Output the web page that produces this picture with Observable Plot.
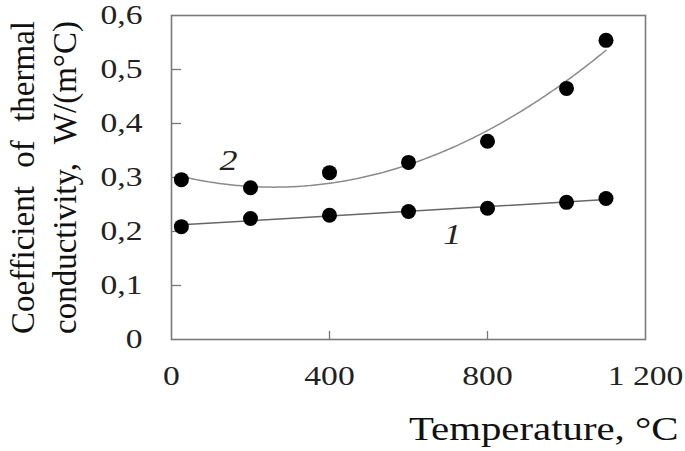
<!DOCTYPE html>
<html>
<head>
<meta charset="utf-8">
<script src="https://cdn.jsdelivr.net/npm/d3@7"></script>
<script src="https://cdn.jsdelivr.net/npm/@observablehq/plot@0.6"></script>
<style>
  html, body { margin: 0; padding: 0; background: #fff; }
  #chart svg, #chart svg text, #chart svg tspan { font-family: "Liberation Serif", "Times New Roman", serif !important; }
</style>
</head>
<body>
<div id="chart"></div>
<script>
// Data
const temperature = [25, 200, 400, 600, 800, 1000, 1100];
const curve1 = [0.209, 0.224, 0.230, 0.237, 0.243, 0.254, 0.261];
const curve2 = [0.296, 0.281, 0.309, 0.328, 0.367, 0.465, 0.554];
const xTicks = [0, 400, 800, 1200];
const yTicks = [0, 0.1, 0.2, 0.3, 0.4, 0.5, 0.6];
const curveLabels = [
  {x: 144, y: 0.331, label: "2"},
  {x: 711, y: 0.194, label: "1"}
];
const xTitle = "Temperature, °C";
const yTitle = ["Coefficient of thermal", "conductivity, W/(m°C)"];

const pts1 = temperature.map((t, i) => ({t, k: curve1[i]}));
const pts2 = temperature.map((t, i) => ({t, k: curve2[i]}));

// second-order polynomial trend for curve 2 (least squares)
function polyFit2(xs, ys) {
  let S = [0,0,0,0,0], T = [0,0,0];
  xs.forEach((x, i) => {
    for (let p = 0; p < 5; p++) S[p] += Math.pow(x, p);
    for (let p = 0; p < 3; p++) T[p] += ys[i] * Math.pow(x, p);
  });
  const A = [[S[0],S[1],S[2],T[0]],[S[1],S[2],S[3],T[1]],[S[2],S[3],S[4],T[2]]];
  for (let c = 0; c < 3; c++) {
    for (let r = c + 1; r < 3; r++) {
      const f = A[r][c] / A[c][c];
      for (let k = c; k < 4; k++) A[r][k] -= f * A[c][k];
    }
  }
  const b = [0,0,0];
  for (let r = 2; r >= 0; r--) {
    let s = A[r][3];
    for (let k = r + 1; k < 3; k++) s -= A[r][k] * b[k];
    b[r] = s / A[r][r];
  }
  return x => b[0] + b[1]*x + b[2]*x*x;
}
const f2 = polyFit2(temperature, curve2);
const t0 = d3.min(temperature), t1 = d3.max(temperature);
const fitted2 = d3.range(t0, t1 + 0.001, (t1 - t0) / 200).map(t => ({t, k: f2(t)}));

const fmtY = d => d === 0 ? "0" : d.toFixed(1).replace(".", ",");
const fmtX = d => d >= 1000 ? Math.floor(d/1000) + "\u00a0" + String(d % 1000).padStart(3, "0") : String(d);
const serif = "Liberation Serif";

const chart = Plot.plot({
  width: 685,
  height: 451,
  marginLeft: 171,
  marginRight: 40,
  marginTop: 15,
  marginBottom: 112,
  style: {fontSize: "26px", color: "#111", background: "#fff"},
  x: {domain: [0, 1200]},
  y: {domain: [0, 0.6]},
  marks: [
    Plot.axisX({ticks: xTicks, tickSize: 0, tickPadding: 26, tickFormat: fmtX, fontSize: 28, label: null, fill: "#222"}),
    Plot.axisY({ticks: yTicks, tickSize: 0, tickPadding: 29, tickFormat: fmtY, fontSize: 28, label: null, fill: "#222"}),
    Plot.ruleY(yTicks.filter(d => d > 0 && d < 0.6), {y: d => d, insetRight: 464, stroke: "#777", strokeWidth: 1.3}),
    Plot.ruleX(xTicks.filter(d => d > 0 && d < 1200), {x: d => d, insetTop: 316, stroke: "#777", strokeWidth: 1.3}),
    Plot.frame({stroke: "#7a7a7a", strokeWidth: 1.6}),
    Plot.line(fitted2, {x: "t", y: "k", stroke: "#8a8a8a", strokeWidth: 1.5}),
    Plot.linearRegressionY(pts1, {x: "t", y: "k", stroke: "#666", strokeWidth: 1.5, ci: 0}),
    Plot.dot(pts1, {x: "t", y: "k", r: 7.5, fill: "#000", stroke: "none"}),
    Plot.dot(pts2, {x: "t", y: "k", r: 7.5, fill: "#000", stroke: "none"}),
    Plot.text(curveLabels, {x: "x", y: "y", text: "label", fontSize: 30, fontStyle: "italic", fill: "#222"}),
    Plot.text([xTitle], {frameAnchor: "bottom-right", dx: 33, dy: 100, lineAnchor: "bottom", textAnchor: "end", fontSize: 34, fill: "#111"}),
    Plot.text([yTitle[0]], {frameAnchor: "left", dx: -138, rotate: -90, lineAnchor: "bottom", textAnchor: "middle", fontSize: 33, fill: "#111"}),
    Plot.text([yTitle[1]], {frameAnchor: "left", dx: -96, rotate: -90, lineAnchor: "bottom", textAnchor: "middle", fontSize: 33, fill: "#111"})
  ]
});
const svg = d3.select(chart);
svg.attr("font-family", serif);
svg.selectAll("text").attr("font-family", serif);
document.getElementById("chart").appendChild(chart);

// the reference is drawn slightly stretched horizontally; the rotated titles are justified
svg.selectAll("text").each(function() {
  const len = this.getComputedTextLength();
  const content = this.textContent;
  if (yTitle.includes(content)) {
    const spaces = (content.match(/ /g) || []).length;
    const extra = Math.max(0, (313 - len) / spaces);
    d3.select(this).style("word-spacing", extra + "px");
  } else if (len > 0) {
    d3.select(this).attr("textLength", len * 1.2).attr("lengthAdjust", "spacingAndGlyphs");
  }
});
</script>
</body>
</html>
